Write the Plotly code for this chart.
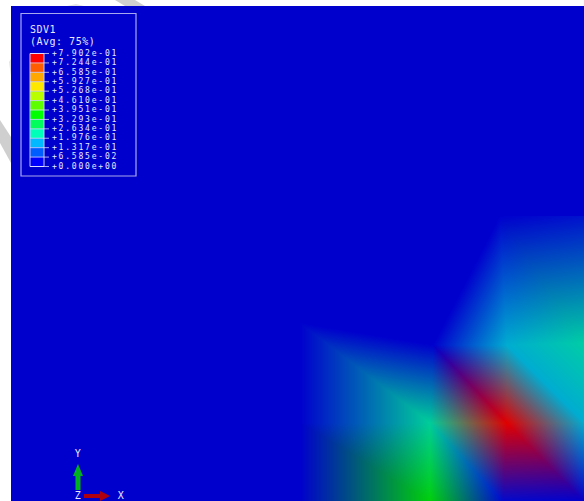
import numpy as np
import plotly.graph_objects as go

# Legend
legend_labels = ["+7.902e-01", "+7.244e-01", "+6.585e-01", "+5.927e-01", "+5.268e-01",
                 "+4.610e-01", "+3.951e-01", "+3.293e-01", "+2.634e-01", "+1.976e-01",
                 "+1.317e-01", "+6.585e-02", "+0.000e+00"]
legend_colors = ["#ff0000", "#ff5d00", "#ffa800", "#ffe800", "#b9ff00", "#5dff00", "#00ff00",
                 "#00ff5d", "#00ffb9", "#00b9ff", "#005dff", "#0000ff"]

# Mesh nodes (x, y in image coordinates) and nodal result SDV1
node_names = ["A", "B", "C", "D", "E", "F", "G", "H", "I", "J", "K", "L", "M", "N"]
node_x = [433, 507, 585, 507, 430, 430, 503, 585, 585, 300, 300, 300, 585, 500]
node_y = [345, 345, 343, 423, 423, 502, 502, 502, 423, 323, 423, 502, 216, 216]
node_v = [0.0, 0.20, 0.28, 0.79, 0.29, 0.42, 0.01, 0.0, 0.20, 0.0, 0.0, 0.0, 0.02, 0.0]
elements = ["ANB", "NMC", "NCB", "ABD", "ADE", "BCI", "BID", "DIH", "DHG", "EDG", "EGF",
            "JAE", "JEK", "KEF", "KFL"]

# Colour map of the contour plot (value, r, g, b)
cmap_v = [0.0, 0.1, 0.2, 0.28, 0.42, 0.53, 0.66, 0.79]
cmap_r = [0, 0, 0, 0, 0, 160, 225, 225]
cmap_g = [0, 90, 172, 205, 208, 205, 130, 0]
cmap_b = [205, 205, 208, 165, 10, 0, 0, 0]

BLUE = "rgb(0,0,205)"
LIGHT = "#e8e8ff"

# Gouraud-shade the elements: RGB is interpolated between nodes
x0, x1, y0, y1 = 290, 584, 210, 501
xx, yy = np.meshgrid(np.arange(x0, x1) + 0.5, np.arange(y0, y1) + 0.5)
img = np.zeros(xx.shape + (3,), dtype=float)
img[..., 2] = 205
idx = {n: i for i, n in enumerate(node_names)}
node_rgb = np.array([[np.interp(v, cmap_v, c) for c in (cmap_r, cmap_g, cmap_b)] for v in node_v])
for el in elements:
    i, j, k = (idx[c] for c in el)
    ax, ay, bx, by, cx, cy = node_x[i], node_y[i], node_x[j], node_y[j], node_x[k], node_y[k]
    den = (by - cy) * (ax - cx) + (cx - bx) * (ay - cy)
    w1 = ((by - cy) * (xx - cx) + (cx - bx) * (yy - cy)) / den
    w2 = ((cy - ay) * (xx - cx) + (ax - cx) * (yy - cy)) / den
    w3 = 1 - w1 - w2
    mask = (w1 >= -1e-9) & (w2 >= -1e-9) & (w3 >= -1e-9)
    img[mask] = (w1[mask, None] * node_rgb[i] + w2[mask, None] * node_rgb[j] + w3[mask, None] * node_rgb[k])

fig = go.Figure()
fig.add_trace(go.Image(z=img.round().astype(np.uint8), x0=x0 + 0.5, y0=y0 + 0.5, dx=1, dy=1,
                       hoverinfo="skip", colormodel="rgb"))

shapes = [
    dict(type="rect", x0=11, x1=584, y0=6, y1=501, fillcolor=BLUE, line_width=0, layer="below"),
    # faint watermark remains in the white margin
    dict(type="path", path="M0,120 L11,137 L11,163 L0,143 Z", fillcolor="#cfcfcf", line_width=0, layer="below"),
    dict(type="path", path="M115,0 L135,0 L145,6 L125,6 Z", fillcolor="#cfcfcf", line_width=0, layer="below"),
    dict(type="path", path="M9,62 L11,59 L11,76 Z", fillcolor="#e4e4e4", line_width=0, layer="below"),
    dict(type="path", path="M67,6 L76,4 L84,6 Z", fillcolor="#e4e4e4", line_width=0, layer="below"),
    dict(type="rect", x0=21, x1=136, y0=13.5, y1=176, line=dict(color="#a8a8ee", width=1.2), fillcolor="rgba(0,0,0,0)"),
]

bar_top, bar_bot = 53.5, 166.5
step = (bar_bot - bar_top) / 12
for n, col in enumerate(legend_colors):
    shapes.append(dict(type="rect", x0=30, x1=44, y0=bar_top + n * step, y1=bar_top + (n + 1) * step,
                       fillcolor=col, line_width=0))
shapes.append(dict(type="rect", x0=30, x1=44, y0=bar_top, y1=bar_bot, line=dict(color="#c8c8ff", width=1),
                   fillcolor="rgba(0,0,0,0)"))
annotations = []
for n, lab in enumerate(legend_labels):
    y = bar_top + n * step
    shapes.append(dict(type="line", x0=30, x1=49, y0=y, y1=y, line=dict(color="rgba(225,225,255,0.75)", width=1)))
    annotations.append(dict(x=51.5, y=y - 0.3, text=lab, xanchor="left", yanchor="middle", showarrow=False,
                            align="left", font=dict(family="DejaVu Sans Mono", size=8, color=LIGHT),
                            xref="x", yref="y", borderpad=0, borderwidth=0))
for txt, tx, ty, anchor in [("SDV1", 30, 29.5, "left"), ("(Avg: 75%)", 30, 41, "left"),
                            ("Y", 78, 453, "center"), ("Z", 77.5, 495.5, "center"), ("X", 121, 495.5, "center")]:
    annotations.append(dict(x=tx, y=ty, text=txt, xanchor=anchor, yanchor="middle", showarrow=False,
                            align=anchor, font=dict(family="DejaVu Sans Mono", size=10, color=LIGHT),
                            xref="x", yref="y", borderpad=0, borderwidth=0))

# Triad arrows
fig.add_trace(go.Scatter(x=[78, 78], y=[490, 472], mode="lines", line=dict(color="#00b020", width=5), hoverinfo="skip"))
fig.add_trace(go.Scatter(x=[84, 102], y=[496, 496], mode="lines", line=dict(color="#b00010", width=4), hoverinfo="skip"))
shapes.append(dict(type="path", path="M78,464 L83,476 L73,476 Z", fillcolor="#00b020", line_width=0))
shapes.append(dict(type="path", path="M110,496 L100,491 L100,501 Z", fillcolor="#b00010", line_width=0))

fig.update_layout(
    width=584, height=501, margin=dict(l=0, r=0, t=0, b=0), showlegend=False,
    paper_bgcolor="white", plot_bgcolor="white", shapes=shapes, annotations=annotations,
    xaxis=dict(range=[0, 584], visible=False, constrain="domain"),
    yaxis=dict(range=[501, 0], visible=False, constrain="domain", scaleanchor=None),
)
post = """
document.documentElement.style.margin='0';
document.documentElement.style.overflow='hidden';
document.body.style.margin='0';
document.body.style.overflow='hidden';
function spaceText(){
  document.querySelectorAll('.annotation-text').forEach(function(t){
    t.style.letterSpacing = (parseFloat(t.style.fontSize) < 9) ? '1.8px' : '0.5px';
  });
}
spaceText();
var gd=document.querySelector('.plotly-graph-div');
if(gd&&gd.on){gd.on('plotly_afterplot',spaceText);}
"""
fig.write_html("out.html", config=dict(displayModeBar=False), post_script=post)
